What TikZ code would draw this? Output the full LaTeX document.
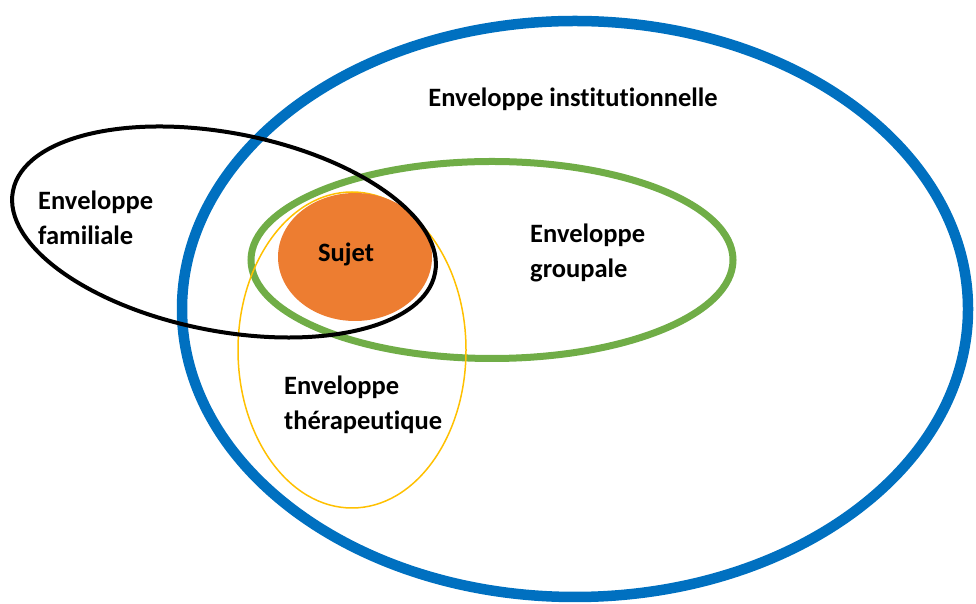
\documentclass[tikz,border=0pt]{standalone}
\usepackage{fontspec}
\setmainfont{Carlito}[Ligatures=CommonOff]
\usepackage{tikz}
\definecolor{instblue}{HTML}{0070C0}
\definecolor{groupgreen}{HTML}{70AD47}
\definecolor{subjorange}{HTML}{ED7D31}
\definecolor{therayellow}{HTML}{FFC000}
\tikzset{label text/.style={font=\bfseries\fontsize{26.5}{35}\selectfont, inner sep=0pt, align=left}}
\begin{document}
\begin{tikzpicture}[x=1pt,y=1pt]
		\useasboundingbox (0,0) rectangle (976,604);
		\draw [instblue, line width=10.5pt](575,295) ellipse [x radius=393, y radius=288];
		\draw [groupgreen, line width=7pt](492,344) ellipse [x radius=241, y radius=98.5];
		\draw [therayellow, line width=1.5pt](352,254) ellipse [x radius=114, y radius=158];
		\fill [subjorange](355,347) ellipse [x radius=77, y radius=64];
		\draw [line width=4pt](224,372) ellipse [x radius=215, y radius=99, rotate=-11];
		\node [label text] (inst) at (573,505) {Enveloppe institutionnelle};
		\node [label text, anchor=west] (fam) at (38,386) {Enveloppe\\familiale};
		\node [label text] (sujet) at (346,350) {Sujet};
		\node [label text, anchor=west] (group) at (530,351) {Enveloppe\\groupale};
		\node [label text, anchor=west] (thera) at (284,199) {Enveloppe\\th\'erapeutique};
	\end{tikzpicture}
\end{document}
